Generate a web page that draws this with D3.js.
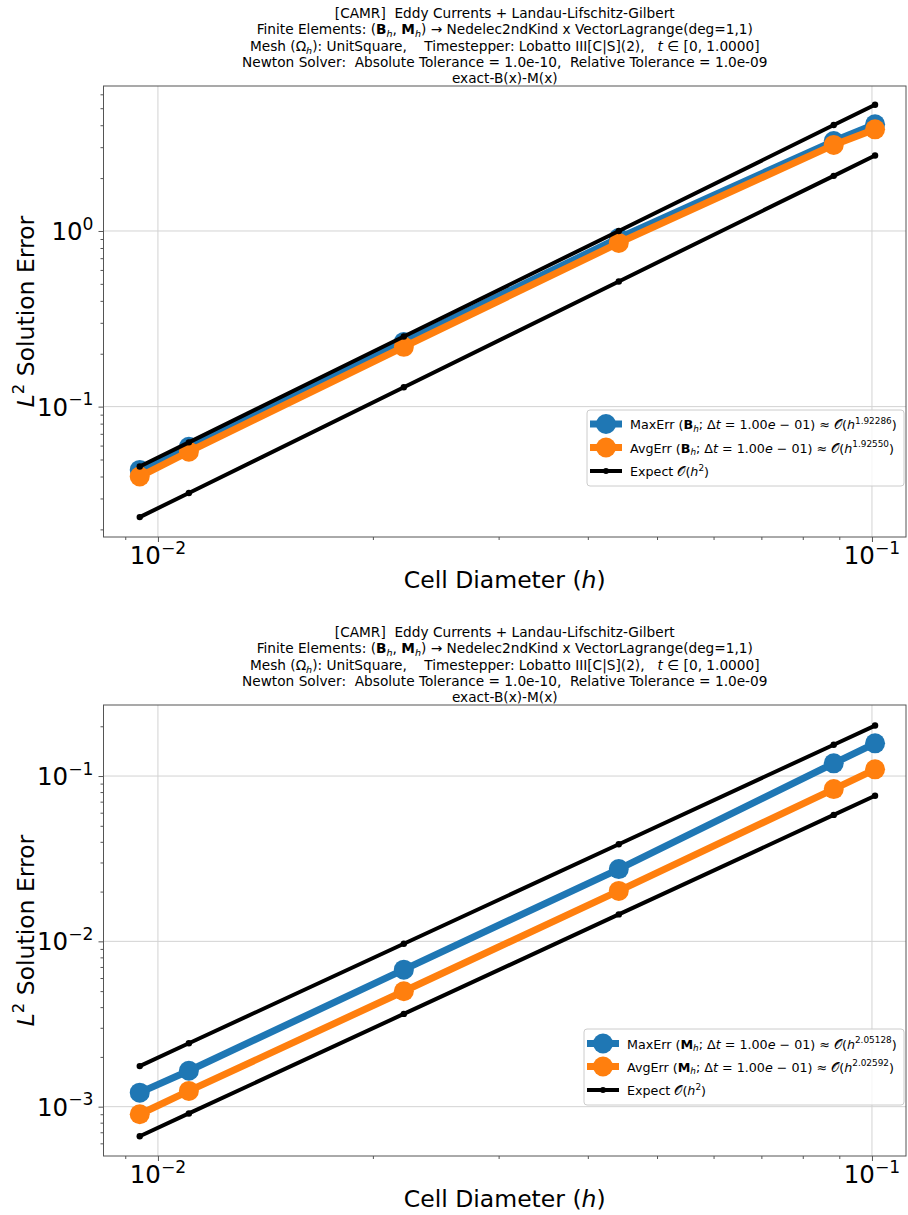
<!DOCTYPE html>
<html>
<head>
<meta charset="utf-8">
<script src="https://cdn.jsdelivr.net/npm/d3@7"></script>
<style>
  body { margin: 0; background: #fff; }
  svg text { font-family: "DejaVu Sans", sans-serif; white-space: pre; fill: #000; }
</style>
</head>
<body>
<div id="chart"></div>
<script>
// cell diameters (shared by both panels)
const hValues = [0.00943, 0.01105, 0.0221, 0.0442, 0.0884, 0.1010];

// panel 1: B field errors
const bMaxErr      = [0.0436, 0.0591, 0.2335, 0.912, 3.25, 4.05];
const bAvgErr      = [0.0400, 0.0554, 0.219, 0.855, 3.09, 3.79];
const bExpectUpper = [0.0456, 0.0626, 0.2506, 1.00, 4.01, 5.23];
const bExpectLower = [0.0235, 0.0322, 0.129, 0.516, 2.06, 2.69];
const bRates = ["1.92286", "1.92550"];

// panel 2: M field errors
const mMaxErr      = [1.216e-3, 1.65e-3, 6.74e-3, 0.02737, 0.1194, 0.1577];
const mAvgErr      = [9.0e-4, 1.245e-3, 4.99e-3, 0.0202, 0.0834, 0.1098];
const mExpectUpper = [1.76e-3, 2.42e-3, 9.67e-3, 0.0387, 0.1547, 0.202];
const mExpectLower = [6.62e-4, 9.10e-4, 3.64e-3, 0.01456, 0.0582, 0.0760];
const mRates = ["2.05128", "2.02592"];

const xLimits = [0.00839, 0.1116];
const bYLimits = [0.0181, 6.69];
const mYLimits = [5.03e-4, 0.269];

const titleLines = [
  [{t: "[CAMR]  Eddy Currents + Landau-Lifschitz-Gilbert"}],
  [{t: "Finite Elements: ("}, {t: "B", b: 1}, {t: "h", i: 1, sub: 1}, {t: ", "}, {t: "M", b: 1}, {t: "h", i: 1, sub: 1},
   {t: ") → Nedelec2ndKind x VectorLagrange(deg=1,1)"}],
  [{t: "Mesh (Ω"}, {t: "h", i: 1, sub: 1}, {t: "): UnitSquare,    Timestepper: Lobatto III[C|S](2),   "},
   {t: "t", i: 1}, {t: " ∈ [0, 1.0000]"}],
  [{t: "Newton Solver:  Absolute Tolerance = 1.0e-10,  Relative Tolerance = 1.0e-09"}],
  [{t: "exact-B(x)-M(x)"}]
];
const xLabel = [{t: "Cell Diameter ("}, {t: "h", i: 1}, {t: ")"}];
const yLabel = [{t: "L", i: 1}, {t: "2", sup: 1}, {t: " Solution Error"}];

const blue = "#1f77b4", orange = "#ff7f0e";

const width = 908, height = 1215;
const svg = d3.select("#chart").append("svg")
  .attr("width", width).attr("height", height)
  .attr("viewBox", `0 0 ${width} ${height}`);

// writes a list of styled pieces into a <text>, handling sub/superscripts with dy
function rich(text, parts, fs) {
  let shift = 0;
  parts.forEach(p => {
    const target = p.sub ? 0.22 * fs : p.sup ? -0.42 * fs : 0;
    const ts = text.append("tspan").attr("dy", target - shift).text(p.t);
    shift = target;
    if (p.sub || p.sup) ts.attr("font-size", fs * 0.7);
    if (p.b) ts.attr("font-weight", "bold");
    if (p.i) ts.attr("font-style", "italic");
  });
  return text;
}

function legendLabel(kind, field, rate) {
  return [{t: kind + " ("}, {t: field, b: 1}, {t: "h", i: 1, sub: 1}, {t: "; Δ"}, {t: "t", i: 1},
          {t: " = 1.00"}, {t: "e", i: 1}, {t: " − 01) ≈ "}, {t: "𝒪"}, {t: "("}, {t: "h", i: 1},
          {t: rate, sup: 1}, {t: ")"}];
}

const isMajor = d => Math.abs(Math.log10(d) - Math.round(Math.log10(d))) < 1e-9;

function powerLabel(text, d, fs) {
  const e = Math.round(Math.log10(d));
  rich(text, [{t: "10"}, {t: (e < 0 ? "−" : "") + Math.abs(e), sup: 1}], fs);
}

function drawPanel(p) {
  const g = svg.append("g");
  const x = d3.scaleLog().domain(xLimits).range([p.left, p.right]);
  const y = d3.scaleLog().domain(p.yDomain).range([p.bottom, p.top]);

  const xTicks = x.ticks(), yTicks = y.ticks();
  const xMajor = xTicks.filter(isMajor), yMajor = yTicks.filter(isMajor);

  // grid
  g.append("g").selectAll("line").data(xMajor).join("line")
    .attr("x1", d => x(d)).attr("x2", d => x(d))
    .attr("y1", p.top).attr("y2", p.bottom)
    .attr("stroke", "#d3d3d3").attr("stroke-width", 1);
  g.append("g").selectAll("line").data(yMajor).join("line")
    .attr("y1", d => y(d)).attr("y2", d => y(d))
    .attr("x1", p.left).attr("x2", p.right)
    .attr("stroke", "#d3d3d3").attr("stroke-width", 1);

  // axes: minor ticks, major ticks
  const bottomAxis = g.append("g").attr("transform", `translate(0,${p.bottom})`);
  bottomAxis.call(d3.axisBottom(x).tickValues(xTicks.filter(d => !isMajor(d))).tickSize(3).tickFormat(""));
  bottomAxis.append("g").call(d3.axisBottom(x).tickValues(xMajor).tickSize(5).tickFormat(""));
  const leftAxis = g.append("g").attr("transform", `translate(${p.left},0)`);
  leftAxis.call(d3.axisLeft(y).tickValues(yTicks.filter(d => !isMajor(d))).tickSize(3).tickFormat(""));
  leftAxis.append("g").call(d3.axisLeft(y).tickValues(yMajor).tickSize(5).tickFormat(""));
  g.selectAll(".domain").remove();
  g.selectAll(".tick line").attr("stroke", "#555");

  // tick labels
  xMajor.forEach(d => {
    powerLabel(g.append("text").attr("x", x(d)).attr("y", p.bottom + 27)
      .attr("text-anchor", "middle").attr("font-size", 24.5), d, 24.5);
  });
  yMajor.forEach(d => {
    powerLabel(g.append("text").attr("x", p.left - 10).attr("y", y(d) + 9)
      .attr("text-anchor", "end").attr("font-size", 24.5), d, 24.5);
  });

  // series
  const line = d3.line().x((d, i) => x(hValues[i])).y(d => y(d));
  const series = [
    {values: p.maxErr, color: blue, width: 7, r: 10},
    {values: p.avgErr, color: orange, width: 7, r: 10},
    {values: p.expUp, color: "#000", width: 4, r: 3.2},
    {values: p.expLo, color: "#000", width: 4, r: 3.2}
  ];
  series.forEach(s => {
    g.append("path").attr("d", line(s.values)).attr("fill", "none")
      .attr("stroke", s.color).attr("stroke-width", s.width)
      .attr("stroke-linejoin", "round");
    g.append("g").selectAll("circle").data(s.values).join("circle")
      .attr("cx", (d, i) => x(hValues[i])).attr("cy", d => y(d))
      .attr("r", s.r).attr("fill", s.color);
  });

  // frame
  g.append("rect").attr("x", p.left).attr("y", p.top)
    .attr("width", p.right - p.left).attr("height", p.bottom - p.top)
    .attr("fill", "none").attr("stroke", "#555").attr("stroke-width", 1);

  // title
  titleLines.forEach((parts, k) => {
    rich(g.append("text").attr("x", (p.left + p.right) / 2).attr("y", p.top - 68 + k * 16.3)
      .attr("text-anchor", "middle").attr("font-size", 13.7), parts, 13.7);
  });

  // axis labels
  rich(g.append("text").attr("x", (p.left + p.right) / 2).attr("y", p.bottom + 51)
    .attr("text-anchor", "middle").attr("font-size", 23.5), xLabel, 23.5);
  rich(g.append("text")
    .attr("transform", `translate(34,${(p.top + p.bottom) / 2}) rotate(-90)`)
    .attr("text-anchor", "middle").attr("font-size", 23.5), yLabel, 23.5);

  // legend
  const L = p.legend;
  g.append("rect").attr("x", L.x0).attr("y", L.y0)
    .attr("width", L.x1 - L.x0).attr("height", L.y1 - L.y0).attr("rx", 3)
    .attr("fill", "#fff").attr("fill-opacity", 0.8).attr("stroke", "#ccc");
  const entries = [
    {label: legendLabel("MaxErr", p.field, p.rates[0]), color: blue, width: 7, r: 10},
    {label: legendLabel("AvgErr", p.field, p.rates[1]), color: orange, width: 7, r: 10},
    {label: [{t: "Expect "}, {t: "𝒪"}, {t: "("}, {t: "h", i: 1}, {t: "2", sup: 1}, {t: ")"}], color: "#000", width: 4, r: 3}
  ];
  entries.forEach((e, k) => {
    const cy = L.rows[k];
    g.append("line").attr("x1", L.hx0).attr("x2", L.hx0 + 32).attr("y1", cy).attr("y2", cy)
      .attr("stroke", e.color).attr("stroke-width", e.width);
    g.append("circle").attr("cx", L.hx0 + 16).attr("cy", cy).attr("r", e.r).attr("fill", e.color);
    rich(g.append("text").attr("x", L.hx0 + 40).attr("y", cy + 5).attr("font-size", 12.7), e.label, 12.7);
  });
}

drawPanel({
  left: 103.5, right: 906, top: 86, bottom: 537, yDomain: bYLimits,
  maxErr: bMaxErr, avgErr: bAvgErr, expUp: bExpectUpper, expLo: bExpectLower,
  field: "B", rates: bRates,
  legend: {x0: 587, x1: 904, y0: 410, y1: 486, hx0: 590, rows: [424, 447.5, 471]}
});
drawPanel({
  left: 103.5, right: 906, top: 705, bottom: 1156, yDomain: mYLimits,
  maxErr: mMaxErr, avgErr: mAvgErr, expUp: mExpectUpper, expLo: mExpectLower,
  field: "M", rates: mRates,
  legend: {x0: 584, x1: 904, y0: 1029, y1: 1105, hx0: 587, rows: [1043.5, 1066.5, 1090]}
});
</script>
</body>
</html>
